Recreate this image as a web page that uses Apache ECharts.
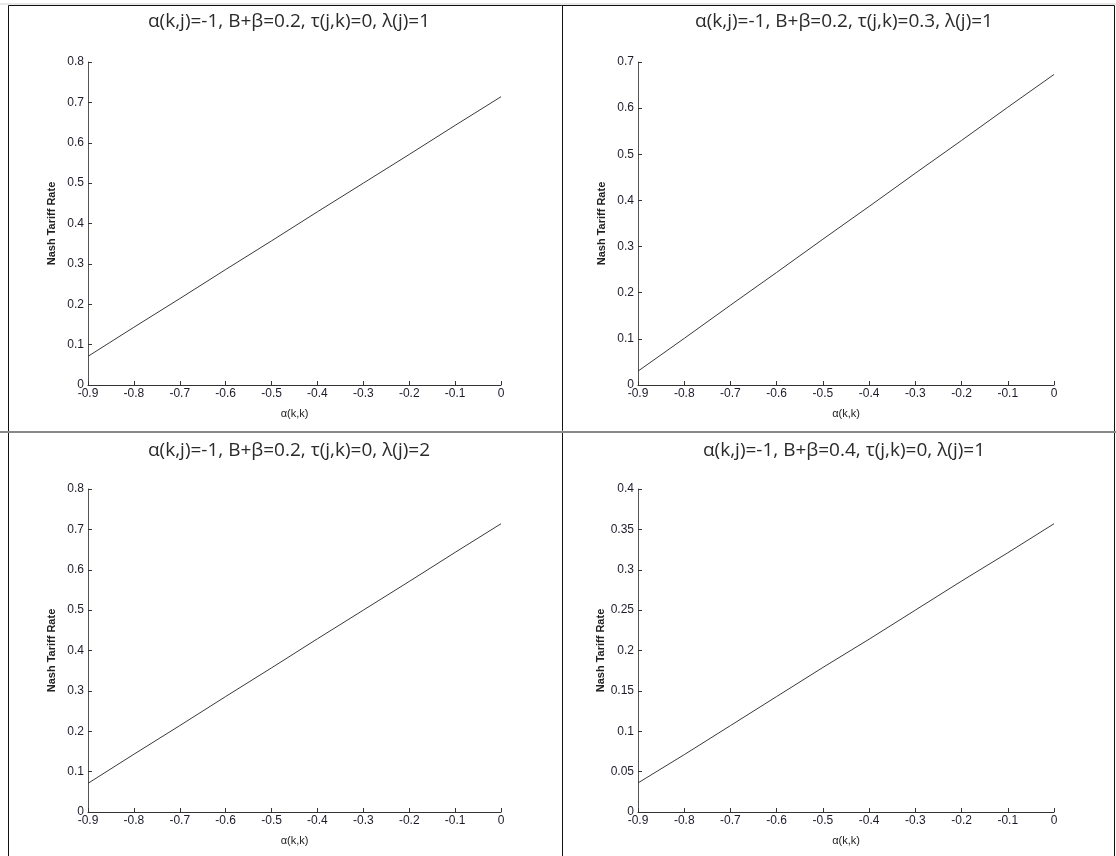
<!DOCTYPE html>
<html>
<head>
<meta charset="utf-8">
<script src="https://cdn.jsdelivr.net/npm/echarts@6/dist/echarts.min.js"></script>
<style>
html,body{margin:0;padding:0;background:#fff;}
#chart{width:1116px;height:856px;}
</style>
</head>
<body>
<div id="chart"></div>
<script>
// Data
const alphaKK = [-0.9, -0.8, -0.7, -0.6, -0.5, -0.4, -0.3, -0.2, -0.1, 0];
const titles = [
  'α(k,j)=-1, B+β=0.2, τ(j,k)=0, λ(j)=1',
  'α(k,j)=-1, B+β=0.2, τ(j,k)=0.3, λ(j)=1',
  'α(k,j)=-1, B+β=0.2, τ(j,k)=0, λ(j)=2',
  'α(k,j)=-1, B+β=0.4, τ(j,k)=0, λ(j)=1'
];
const rateTL = [0.071, 0.143, 0.214, 0.286, 0.357, 0.429, 0.500, 0.571, 0.643, 0.714];
const rateTR = [0.030, 0.101, 0.173, 0.244, 0.316, 0.387, 0.459, 0.530, 0.602, 0.673];
const rateBL = [0.071, 0.143, 0.214, 0.286, 0.357, 0.429, 0.500, 0.571, 0.643, 0.714];
const rateBR = [0.036, 0.071, 0.107, 0.143, 0.179, 0.214, 0.250, 0.286, 0.321, 0.357];
const yMax = [0.8, 0.7, 0.8, 0.4];
const yStep = [0.1, 0.1, 0.1, 0.05];
const xLabel = 'α(k,k)';
const yLabel = 'Nash Tariff Rate';

const allRates = [rateTL, rateTR, rateBL, rateBR];
const grids = [
  {left: 88, top: 62, width: 413, height: 323},
  {left: 638, top: 62, width: 416, height: 323},
  {left: 88, top: 489, width: 413, height: 323},
  {left: 638, top: 489, width: 416, height: 323}
];
const titlePos = [[284, 7], [839, 7], [284, 436], [839, 436]];

const axisColor = '#333';
const labelStyle = {color: '#1c1c2c', fontSize: 12, fontFamily: 'Liberation Sans, Arial, sans-serif'};

const option = {
  animation: false,
  backgroundColor: '#fff',
  title: titles.map((t, i) => ({
    text: t,
    left: titlePos[i][0],
    top: titlePos[i][1],
    textAlign: 'center',
    textStyle: {fontFamily: 'Open Sans, sans-serif', fontWeight: 'normal', fontSize: 19, color: '#2a2a2a'}
  })),
  grid: grids.map(g => Object.assign({containLabel: false}, g)),
  xAxis: grids.map((g, i) => ({
    type: 'value', gridIndex: i, min: -0.9, max: 0, interval: 0.1,
    name: xLabel, nameLocation: 'middle', nameGap: 23,
    nameTextStyle: {color: '#222', fontSize: 11, fontFamily: 'Liberation Sans, Arial, sans-serif'},
    axisLine: {show: true, onZero: false, lineStyle: {color: axisColor, width: 1}},
    axisTick: {show: true, inside: true, length: 4, lineStyle: {color: axisColor}},
    axisLabel: Object.assign({margin: 3, formatter: v => (Math.round(v * 10) / 10).toString()}, labelStyle),
    splitLine: {show: false}
  })),
  yAxis: grids.map((g, i) => ({
    type: 'value', gridIndex: i, min: 0, max: yMax[i], interval: yStep[i],
    name: yLabel, nameLocation: 'middle', nameGap: 31, nameRotate: 90,
    nameTextStyle: {color: '#222', fontSize: 11, fontWeight: 'bold', fontFamily: 'Liberation Sans, Arial, sans-serif'},
    axisLine: {show: true, onZero: false, lineStyle: {color: '#555', width: 1}},
    axisTick: {show: true, inside: true, length: 4, lineStyle: {color: axisColor}},
    axisLabel: Object.assign({margin: 4, formatter: v => (Math.round(v * 100) / 100).toString()}, labelStyle),
    splitLine: {show: false}
  })),
  series: allRates.map((r, i) => ({
    type: 'line', xAxisIndex: i, yAxisIndex: i,
    data: alphaKK.map((x, k) => [x, r[k]]),
    showSymbol: false, symbol: 'none',
    lineStyle: {color: '#3a3a3a', width: 1}
  })),
  graphic: [
    {type: 'line', shape: {x1: 0, y1: 4, x2: 1116, y2: 4}, style: {stroke: '#d0d0d0', lineWidth: 1}, silent: true},
    {type: 'rect', shape: {x: 8.5, y: 5.5, width: 1106, height: 860}, style: {fill: null, stroke: '#111', lineWidth: 1}, silent: true},
    {type: 'line', shape: {x1: 562.5, y1: 5, x2: 562.5, y2: 856}, style: {stroke: '#111', lineWidth: 1}, silent: true},
    {type: 'line', shape: {x1: 0, y1: 432, x2: 1116, y2: 432}, style: {stroke: '#888', lineWidth: 2}, silent: true}
  ]
};

const chart = echarts.init(document.getElementById('chart'), null, {renderer: 'canvas'});
chart.setOption(option);
</script>
</body>
</html>
